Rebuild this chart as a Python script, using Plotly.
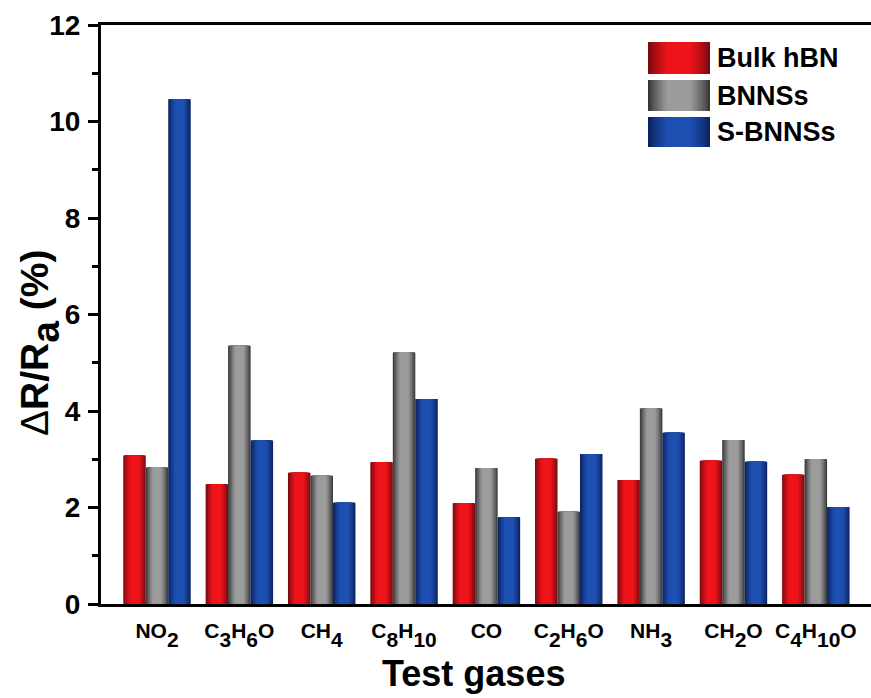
import plotly.graph_objects as go

FONT = "Liberation Sans, Arial, sans-serif"


def chem(formula_parts, size):
    """Build a label where digits sit below the baseline at full size."""
    out = []
    for part in formula_parts:
        if part.isdigit():
            out.append(f'<span style="font-size:{size}px;baseline-shift:-{round(size * 0.42)}px">{part}</span>')
        else:
            out.append(part)
    return "".join(out)


# Gas response data (ΔR/Ra, %)
gas_formulas = [["NO", "2"], ["C", "3", "H", "6", "O"], ["CH", "4"],
                ["C", "8", "H", "10"], ["CO"], ["C", "2", "H", "6", "O"],
                ["NH", "3"], ["CH", "2", "O"], ["C", "4", "H", "10", "O"]]
bulk_hbn = [3.08, 2.48, 2.72, 2.94, 2.09, 3.01, 2.57, 2.97, 2.68]
bnnss = [2.83, 5.35, 2.66, 5.21, 2.82, 1.91, 4.05, 3.40, 3.00]
s_bnnss = [10.46, 3.39, 2.10, 4.25, 1.80, 3.11, 3.55, 2.95, 2.01]

TICK_SIZE = 21
gases = [chem(f, TICK_SIZE) for f in gas_formulas]

series_names = ["Bulk hBN", "BNNSs", "S-BNNSs"]
series_values = [bulk_hbn, bnnss, s_bnnss]
# (edge colour, centre colour) for the cylinder-like shading
series_shades = [((120, 10, 16), (238, 20, 26)),
                 ((55, 55, 55), (156, 156, 156)),
                 ((12, 34, 95), (30, 80, 178))]

BAR_W = 0.273
GROUP_START = -1.5 * BAR_W
N_LAYERS = 12
STEP = 0.035


def shade(edge, centre, frac):
    t = min(1.0, frac / 0.3) ** 0.8
    c = [round(e + (m - e) * t) for e, m in zip(edge, centre)]
    return f"rgb({c[0]},{c[1]},{c[2]})"


xpos = list(range(len(gases)))
fig = go.Figure()

for s, (name, vals, (edge, centre)) in enumerate(zip(series_names, series_values, series_shades)):
    base = GROUP_START + s * BAR_W
    for k in range(N_LAYERS):
        a = k * STEP
        fig.add_trace(go.Bar(
            x=xpos, y=vals, name=name,
            width=BAR_W * (1 - 2 * a),
            offset=base + BAR_W * a,
            marker=dict(color=shade(edge, centre, a), line=dict(width=0)),
            showlegend=False, hoverinfo="x+y" if k == 0 else "skip",
        ))

# Plot-area edges in pixels
px_l, px_r, px_t, px_b = 101, 871, 25, 604


def to_paper_x(px):
    return (px - px_l) / (px_r - px_l)


def to_paper_y(py):
    return (px_b - py) / (px_b - px_t)


# Legend drawn as shaded swatches with labels
legend_rows = [(42, 74), (80, 111), (117, 147)]
sw_x0, sw_x1 = 648, 710
shapes = []
annotations = []
for (name, (edge, centre)), (y0, y1) in zip(zip(series_names, series_shades), legend_rows):
    w = sw_x1 - sw_x0
    for k in range(N_LAYERS):
        a = k * STEP
        shapes.append(dict(
            type="rect", xref="paper", yref="paper",
            x0=to_paper_x(sw_x0 + w * a), x1=to_paper_x(sw_x1 - w * a),
            y0=to_paper_y(y1), y1=to_paper_y(y0),
            fillcolor=shade(edge, centre, a), line=dict(width=0), layer="above",
        ))
    annotations.append(dict(
        xref="paper", yref="paper", x=to_paper_x(715), y=to_paper_y((y0 + y1) / 2),
        text=name, showarrow=False, xanchor="left", yanchor="middle",
        font=dict(family=FONT, size=27, color="black", weight="bold"),
    ))

# Axis titles
annotations.append(dict(
    xref="paper", yref="paper", x=to_paper_x(473), y=to_paper_y(673),
    text="Test gases", showarrow=False, xanchor="center", yanchor="middle",
    font=dict(family=FONT, size=36, color="black", weight="bold"),
))
annotations.append(dict(
    xref="paper", yref="paper", x=to_paper_x(40), y=to_paper_y(343),
    text='<span style="font-weight:400">Δ</span>R/R'
         '<span style="font-size:39px;baseline-shift:-11px">a</span> (%)',
    textangle=-90, showarrow=False, xanchor="center", yanchor="middle",
    font=dict(family=FONT, size=39, color="black", weight="bold"),
))

fig.update_layout(
    width=871, height=698,
    margin=dict(l=px_l, r=871 - px_r, t=px_t, b=698 - px_b),
    paper_bgcolor="white", plot_bgcolor="white",
    barmode="overlay", showlegend=False,
    shapes=shapes, annotations=annotations,
    font=dict(family=FONT, color="black"),
)

fig.update_xaxes(
    range=[-0.68, 8.67], tickmode="array", tickvals=xpos, ticktext=gases,
    tickfont=dict(family=FONT, size=TICK_SIZE, weight="bold"),
    showline=True, linecolor="black", linewidth=3, mirror=True,
    showgrid=False, zeroline=False, ticks="", ticklabelstandoff=6,
)

fig.update_yaxes(
    range=[0, 12], tickmode="linear", tick0=0, dtick=2,
    tickfont=dict(family=FONT, size=28, weight="bold"),
    showline=True, linecolor="black", linewidth=3,
    ticks="outside", ticklen=10, tickwidth=2.5, tickcolor="black",
    minor=dict(dtick=1, ticks="outside", ticklen=6, tickwidth=2.5, tickcolor="black"),
    showgrid=False, zeroline=False, ticklabelstandoff=2,
)

fig.write_html("out.html")
